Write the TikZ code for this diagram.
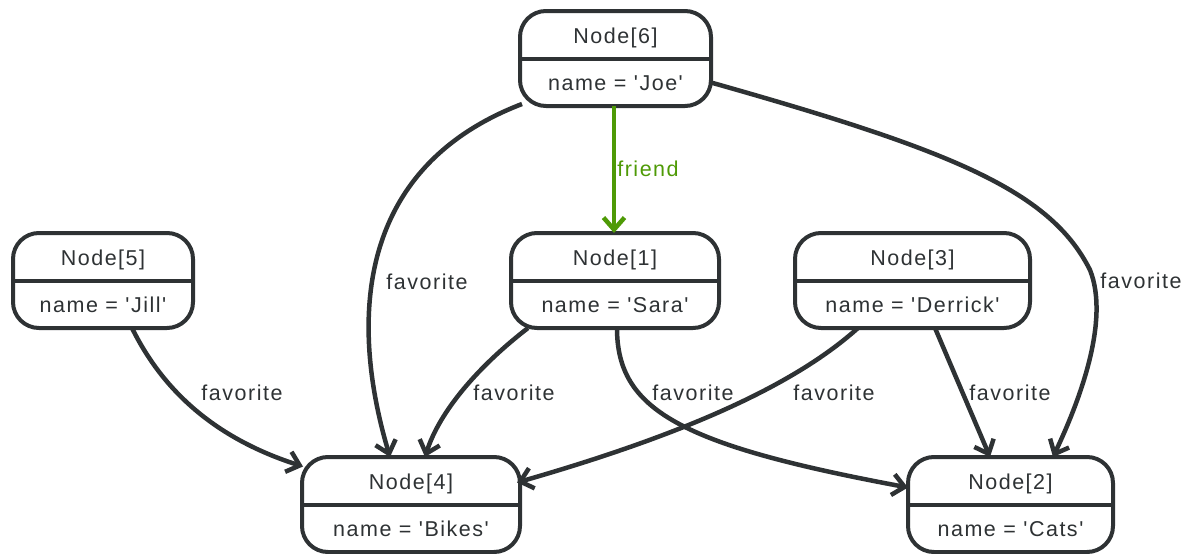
\documentclass[tikz,border=0pt]{standalone}
\usepackage{fontspec}
\usetikzlibrary{arrows.meta,calc}
\newfontfamily\labfont[LetterSpace=7]{Liberation Sans}
\definecolor{dg}{HTML}{2E3234}
\definecolor{fg}{HTML}{4E9A06}
\tikzset{
  box/.style={draw=dg, line width=4pt, rounded corners=26pt, inner sep=0pt, outer sep=0pt, fill=white},
  ttl/.style={anchor=base, text=dg, inner sep=0pt, font=\labfont\fontsize{21.5}{25}\selectfont},
  divider/.style={draw=dg, line width=4pt},
  edge/.style={draw=dg, line width=4.5pt, -{Straight Barb[length=12pt,width=21pt]}},
  fedge/.style={draw=fg, line width=4.5pt, -{Straight Barb[length=12pt,width=21pt]}},
  lbl/.style={text=dg, inner sep=0pt, font=\labfont\fontsize{21.5}{25}\selectfont},
  flbl/.style={text=fg, inner sep=0pt, font=\labfont\fontsize{21.5}{25}\selectfont}
}
\begin{document}
\begin{tikzpicture}[x=1pt,y=-1pt]
\useasboundingbox (0,0) rectangle (1192,554);
% boxes
\node[box, minimum width=191pt, minimum height=95pt] (n6) at (615.5,58.5) {};
\node[box, minimum width=180pt, minimum height=95pt] (n5) at (103,280.5) {};
\node[box, minimum width=208pt, minimum height=95pt] (n1) at (615,280.5) {};
\node[box, minimum width=235pt, minimum height=95pt] (n3) at (912.5,280.5) {};
\node[box, minimum width=218pt, minimum height=95pt] (n4) at (411,504.5) {};
\node[box, minimum width=205pt, minimum height=95pt] (n2) at (1010.5,504.5) {};
% dividers and texts
\foreach \n/\t/\v in {n6/Node[6]/name = 'Joe', n5/Node[5]/name = 'Jill', n1/Node[1]/name = 'Sara', n3/Node[3]/name = 'Derrick', n4/Node[4]/name = 'Bikes', n2/Node[2]/name = 'Cats'}{
  \draw[divider] (\n.west) -- (\n.east);
  \node[ttl] (\n t) at ([yshift=15.5pt]\n.center) {\t};
  \node[ttl] (\n v) at ([yshift=-31.5pt]\n.center) {\v};
}
% edges
\draw[fedge] ([xshift=-1.5pt]n6.south) -- ([xshift=-1pt]n1.north);
\node[flbl] (lf) at (648,169) {friend};

\draw[edge] ($(n6.south west)+(2,-2)$) .. controls (350,170) and (352,330) .. ($(n4.north west)+(88,0)$);
\node[lbl] (l64) at (427,282) {favorite};

\draw[edge] ($(n6.east)+(0,24)$) .. controls (950,150) and (1050,190) .. (1090,270)
  .. controls (1110,320) and (1080,400) .. ($(n2.north west)+(145,0)$);
\node[lbl] (l62) at (1141,281) {favorite};

\draw[edge] ($(n5.south west)+(119,0)$) .. controls (165,395) and (220,440) .. ($(n4.west)+(1,-38)$);
\node[lbl] (l54) at (242,393) {favorite};

\draw[edge] ($(n1.south west)+(17,0)$) .. controls (480,365) and (440,410) .. ($(n4.north west)+(123,0)$);
\node[lbl] (l14) at (514,393) {favorite};

\draw[edge] ($(n1.south)+(2,0)$) .. controls (617,410) and (680,445) .. ($(n2.west)+(0,-17)$);
\node[lbl] (l12) at (693,393) {favorite};

\draw[edge] ($(n3.south west)+(63,0)$) .. controls (800,380) and (700,430) .. ($(n4.east)+(-3,-22)$);
\node[lbl] (l34) at (834,393) {favorite};

\draw[edge] ($(n3.south west)+(140,0)$) -- ($(n2.north west)+(82,0)$);
\node[lbl] (l32) at (1010,393) {favorite};
\end{tikzpicture}
\end{document}
